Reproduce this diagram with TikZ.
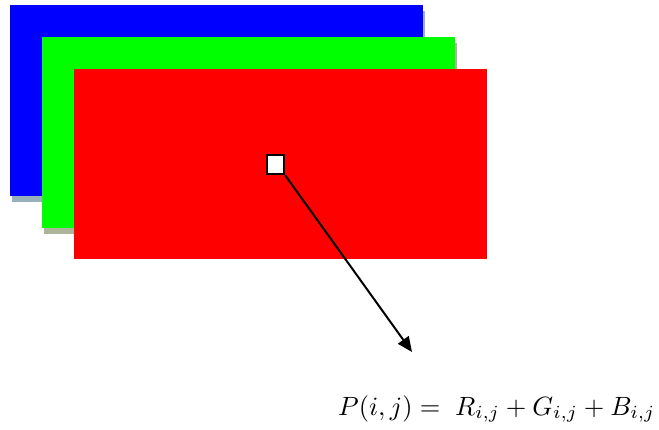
\documentclass[tikz,border=0pt]{standalone}
\usepackage{graphicx}
\usetikzlibrary{arrows.meta}
\definecolor{bshadow}{HTML}{98B0BC}
\definecolor{gshadow}{HTML}{ACB59A}
\tikzset{
  layer/.style={inner sep=0pt, outer sep=0pt, minimum width=413pt, minimum height=191pt, anchor=north west},
  shadowbox/.style={layer},
  pixel/.style={draw=black, line width=2.2pt, fill=white, minimum width=17pt, minimum height=19pt, inner sep=0pt},
  pointer/.style={line width=2pt, -{Triangle[length=15pt, width=13pt]}}
}
\begin{document}
\begin{tikzpicture}[x=1pt, y=-1pt]
\useasboundingbox (0,0) rectangle (659,430);
\node[shadowbox, fill=bshadow] (bs) at (12,11) {};
\node[layer, fill=blue] (b) at (10,5) {};
\node[shadowbox, fill=gshadow] (gs) at (44,43) {};
\node[layer, fill=green] (g) at (42,37) {};
\node[layer, fill=red, minimum height=190pt] (r) at (74,69) {};
\node[pixel] (p) at (275.5,164.5) {};
\coordinate (tip) at (412,352);
\draw[pointer] (p.south east) -- (tip);
\node[anchor=base west, inner sep=0pt] (f) at (338,415) {\resizebox{317pt}{!}{$P(i,j) =\; R_{i,j} + G_{i,j} + B_{i,j}$}};
\end{tikzpicture}
\end{document}
